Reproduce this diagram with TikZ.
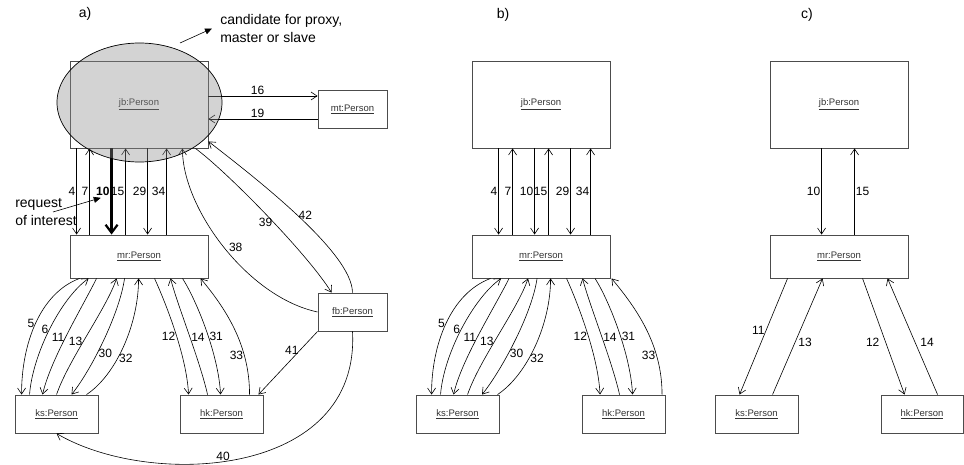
\documentclass[tikz,border=0pt]{standalone}
\usepackage{fontspec}
\setmainfont{Liberation Sans}
\usetikzlibrary{arrows.meta,shapes.geometric}
\begin{document}
\begin{tikzpicture}[x=1pt,y=-1pt,every node/.style={font=\fontsize{12}{14}\selectfont},>={Straight Barb[length=6pt,width=8pt]},line width=0.6pt]
\tikzset{obj/.style={draw=black!70,line width=0.9pt,inner sep=0pt,text=black!80,font=\fontsize{9.5}{11}\selectfont}, lab/.style={inner sep=1pt},
  note/.style={align=left,inner sep=2pt,font=\fontsize{14}{17.5}\selectfont}, hint/.style={-{Triangle[length=7pt,width=6pt]}}}
\useasboundingbox (0,0) rectangle (964,465);
\node[font=\fontsize{14}{17}\selectfont] (tagA) at (85,14) {a)};
\node[font=\fontsize{14}{17}\selectfont] (tagB) at (503,15) {b)};
\node[font=\fontsize{14}{17}\selectfont] (tagC) at (807,15) {c)};
% panel a
\node[obj,minimum width=138pt,minimum height=87pt] (jbA) at (139,104.5) {\underline{jb:Person}};
\node[obj,minimum width=69pt,minimum height=38pt] (mtA) at (352.5,109) {\underline{mt:Person}};
\node[obj,minimum width=138pt,minimum height=43pt] (mrA) at (139,256.5) {\underline{mr:Person}};
\node[obj,minimum width=69pt,minimum height=38pt] (fbA) at (352.5,312) {\underline{fb:Person}};
\node[obj,minimum width=83pt,minimum height=38pt] (ksA) at (56.5,414) {\underline{ks:Person}};
\node[obj,minimum width=83pt,minimum height=38pt] (hkA) at (221.5,414) {\underline{hk:Person}};
\draw[->] ([yshift=8.5pt]jbA.east) -- ([yshift=13pt]mtA.west) node[lab,pos=0.45,above] {16};
\draw[->] ([yshift=-10pt]mtA.west) -- ([yshift=-14.5pt]jbA.east) node[lab,pos=0.55,above] {19};
\draw[->] ([xshift=7pt]jbA.south west) -- ([xshift=7pt]mrA.north west) node[lab,midway,left] {4};
\draw[->] ([xshift=20pt]mrA.north west) -- ([xshift=20pt]jbA.south west) node[lab,midway,left] {7};
\draw[line width=2.2pt,-{Straight Barb[length=8pt,width=12pt]}] ([xshift=42pt]jbA.south west) -- ([xshift=42pt]mrA.north west) node[lab,midway,left,font=\fontsize{12}{14}\selectfont\bfseries] (ten) {10};
\draw[->] ([xshift=56pt]mrA.north west) -- ([xshift=56pt]jbA.south west) node[lab,midway,left] {15};
\draw[->] ([xshift=78pt]jbA.south west) -- ([xshift=78pt]mrA.north west) node[lab,midway,left] {29};
\draw[->] ([xshift=97pt]mrA.north west) -- ([xshift=97pt]jbA.south west) node[lab,midway,left] {34};
\draw[->] ([xshift=10pt]mrA.south west) .. controls +(-40,15) and +(0,-50) .. ([xshift=7pt]ksA.north west) node[lab,pos=0.5,left] {5};
\draw[->] ([xshift=15pt]ksA.north west) .. controls +(3,-40) and +(-28,20) .. ([xshift=19pt]mrA.south west) node[lab,pos=0.5,left] {6};
\draw[->] ([xshift=27pt]mrA.south west) .. controls +(-15,30) and +(8,-35) .. ([xshift=28pt]ksA.north west) node[lab,pos=0.52,left] {11};
\draw[->] ([xshift=42pt]ksA.north west) .. controls +(12,-35) and +(-10,30) .. ([xshift=47pt]mrA.south west) node[lab,pos=0.45,left] {13};
\draw[->] ([xshift=55pt]mrA.south west) .. controls +(-5,35) and +(20,-25) .. ([xshift=57pt]ksA.north west) node[lab,pos=0.6,right] {30};
\draw[->] ([xshift=72pt]ksA.north west) .. controls +(30,-20) and +(0,45) .. ([xshift=69pt]mrA.south west) node[lab,pos=0.4,right] {32};
\draw[->] ([xshift=85pt]mrA.south west) .. controls +(10,22) and +(-2,-40) .. ([xshift=9pt]hkA.north west) node[lab,pos=0.55,left] {12};
\draw[->] ([xshift=28pt]hkA.north west) .. controls +(-8,-35) and +(7,27) .. ([xshift=101pt]mrA.south west) node[lab,pos=0.47,right] {14};
\draw[->] ([xshift=113pt]mrA.south west) .. controls +(14,22) and +(-2,-40) .. ([xshift=41pt]hkA.north west) node[lab,pos=0.55,right] {31};
\draw[->] ([xshift=70pt]hkA.north west) .. controls +(0,-50) and +(25,30) .. ([xshift=131pt]mrA.south west) node[lab,pos=0.28,left] {33};
\draw[->] (fbA.west) .. controls +(-70,-15) and +(0,60) .. ([xshift=-26pt]jbA.south east) node[lab,pos=0.5,right=4pt] {38};
\draw[->] ([xshift=-13pt]jbA.south east) .. controls +(30,22) and +(-25,-40) .. ([xshift=14pt]fbA.north west) node[lab,pos=0.55,left] {39};
\draw[->] ([xshift=-35pt]fbA.north east) .. controls +(0,-40) and +(45,35) .. ([yshift=7pt]jbA.south east) node[lab,pos=0.5,right] {42};
\draw[->] (fbA.south) .. controls +(8,147) and +(93,55) .. (ksA.south) node[lab,pos=0.55,above] {40};
\draw[->] (fbA.south west) -- ([xshift=-5pt]hkA.north east) node[lab,pos=0.3,left] {41};
\node[ellipse,draw,line width=0.7pt,fill=black!45,fill opacity=0.38,minimum width=165pt,minimum height=119pt,inner sep=0pt] (cand) at (139.5,102.5) {};
\node[note,anchor=west] (candtext) at (218,28.5) {candidate for proxy,\\master or slave};
\coordinate (candtail) at (180,43);
\draw[hint] (candtail) -- ([xshift=-6pt]candtext.west);
\node[note,anchor=west] (reqtext) at (13,212) {request\\of interest};
\coordinate (reqtail) at (53,212);
\draw[hint] (reqtail) -- ([xshift=-2pt]ten.south);
% panel b
\node[obj,minimum width=138pt,minimum height=87pt] (jbB) at (541,104.5) {\underline{jb:Person}};
\node[obj,minimum width=138pt,minimum height=43pt] (mrB) at (541,256.5) {\underline{mr:Person}};
\node[obj,minimum width=83pt,minimum height=38pt] (ksB) at (457.5,414) {\underline{ks:Person}};
\node[obj,minimum width=83pt,minimum height=38pt] (hkB) at (623.5,414) {\underline{hk:Person}};
\draw[->] ([xshift=27pt]jbB.south west) -- ([xshift=27pt]mrB.north west) node[lab,midway,left] {4};
\draw[->] ([xshift=41pt]mrB.north west) -- ([xshift=41pt]jbB.south west) node[lab,midway,left] {7};
\draw[->] ([xshift=63pt]jbB.south west) -- ([xshift=63pt]mrB.north west) node[lab,midway,left] {10};
\draw[->] ([xshift=77pt]mrB.north west) -- ([xshift=77pt]jbB.south west) node[lab,midway,left] {15};
\draw[->] ([xshift=99pt]jbB.south west) -- ([xshift=99pt]mrB.north west) node[lab,midway,left] {29};
\draw[->] ([xshift=119pt]mrB.north west) -- ([xshift=119pt]jbB.south west) node[lab,midway,left] {34};
\draw[->] ([xshift=19pt]mrB.south west) .. controls +(-40,15) and +(0,-50) .. ([xshift=16pt]ksB.north west) node[lab,pos=0.5,left] {5};
\draw[->] ([xshift=25pt]ksB.north west) .. controls +(3,-40) and +(-28,20) .. ([xshift=29.5pt]mrB.south west) node[lab,pos=0.5,left] {6};
\draw[->] ([xshift=37.5pt]mrB.south west) .. controls +(-15,30) and +(8,-35) .. ([xshift=38pt]ksB.north west) node[lab,pos=0.52,left] {11};
\draw[->] ([xshift=52pt]ksB.north west) .. controls +(12,-35) and +(-10,30) .. ([xshift=56.5pt]mrB.south west) node[lab,pos=0.45,left] {13};
\draw[->] ([xshift=65.5pt]mrB.south west) .. controls +(-5,35) and +(20,-25) .. ([xshift=66.5pt]ksB.north west) node[lab,pos=0.6,right] {30};
\draw[->] ([xshift=82pt]ksB.north west) .. controls +(30,-20) and +(0,45) .. ([xshift=79pt]mrB.south west) node[lab,pos=0.4,right] {32};
\draw[->] ([xshift=95pt]mrB.south west) .. controls +(10,22) and +(-2,-40) .. ([xshift=18.5pt]hkB.north west) node[lab,pos=0.55,left] {12};
\draw[->] ([xshift=38pt]hkB.north west) .. controls +(-8,-35) and +(7,27) .. ([xshift=111pt]mrB.south west) node[lab,pos=0.47,right] {14};
\draw[->] ([xshift=123.5pt]mrB.south west) .. controls +(14,22) and +(-2,-40) .. ([xshift=51pt]hkB.north west) node[lab,pos=0.55,right] {31};
\draw[->] ([xshift=80.5pt]hkB.north west) .. controls +(0,-50) and +(25,30) .. ([xshift=140pt]mrB.south west) node[lab,pos=0.28,left] {33};
% panel c
\node[obj,minimum width=138pt,minimum height=87pt] (jbC) at (839,104.5) {\underline{jb:Person}};
\node[obj,minimum width=138pt,minimum height=43pt] (mrC) at (839,256.5) {\underline{mr:Person}};
\node[obj,minimum width=83pt,minimum height=38pt] (ksC) at (756.5,414) {\underline{ks:Person}};
\node[obj,minimum width=82pt,minimum height=38pt] (hkC) at (922,414) {\underline{hk:Person}};
\draw[->] ([xshift=52pt]jbC.south west) -- ([xshift=52pt]mrC.north west) node[lab,midway,left] {10};
\draw[->] ([xshift=85pt]mrC.north west) -- ([xshift=85pt]jbC.south west) node[lab,midway,right] {15};
\draw[->] ([xshift=18pt]mrC.south west) -- ([xshift=25pt]ksC.north west) node[lab,pos=0.45,left] {11};
\draw[->] ([xshift=58pt]ksC.north west) -- ([xshift=53pt]mrC.south west) node[lab,pos=0.45,right=2pt] {13};
\draw[->] ([xshift=93pt]mrC.south west) -- ([xshift=24pt]hkC.north west) node[lab,pos=0.55,left=5pt] {12};
\draw[->] ([xshift=57pt]hkC.north west) -- ([xshift=118pt]mrC.south west) node[lab,pos=0.45,right=4pt] {14};
\end{tikzpicture}
\end{document}
